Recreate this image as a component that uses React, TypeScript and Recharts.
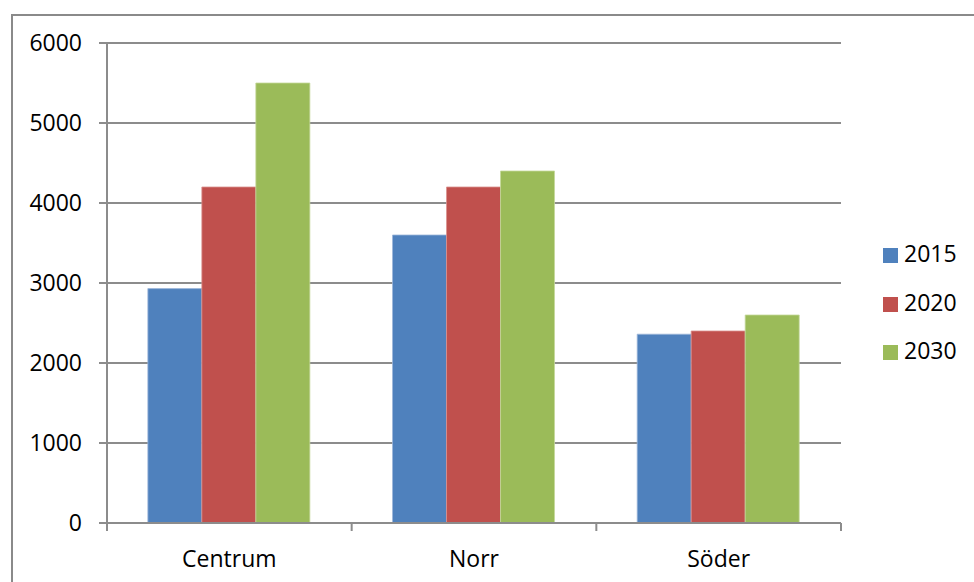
import { Bar, BarChart, CartesianGrid, Legend, XAxis, YAxis } from "recharts";

const regions = ["Centrum", "Norr", "Söder"];
const values2015 = [2930, 3600, 2360];
const values2020 = [4200, 4200, 2400];
const values2030 = [5500, 4400, 2600];
const yTicks = [0, 1000, 2000, 3000, 4000, 5000, 6000];

const data = regions.map((region, i) => ({
  region,
  "2015": values2015[i],
  "2020": values2020[i],
  "2030": values2030[i],
}));

const FONT = "'Open Sans', sans-serif";
const GRID = "#8c8c8c";
const PLOT_WIDTH = 841 - 107;
const BAND = PLOT_WIDTH / regions.length;

function CategoryTick(props: any) {
  const { x, y, payload, index } = props;
  const left = x - BAND / 2;
  return (
    <g>
      <line x1={left} y1={y - 8} x2={left} y2={y} stroke={GRID} strokeWidth={2} />
      {index === regions.length - 1 && (
        <line x1={left + BAND} y1={y - 8} x2={left + BAND} y2={y} stroke={GRID} strokeWidth={2} />
      )}
      <text x={x} y={y + 36} textAnchor="middle" fontFamily={FONT} fontSize={23} fill="#000">
        {payload.value}
      </text>
    </g>
  );
}

export default function App() {
  return (
    <div style={{ position: "absolute", left: 0, top: 0, width: 974, height: 582, overflow: "hidden", background: "#fff" }}>
      <div
        style={{
          position: "absolute",
          left: 11,
          top: 14,
          width: 1000,
          height: 600,
          border: "2px solid #8a8a8a",
          boxSizing: "border-box",
        }}
      />
      <div style={{ position: "absolute", left: 0, top: 0 }}>
        <BarChart
          width={974}
          height={582}
          data={data}
          margin={{ top: 43, right: 133, bottom: 0, left: 11 }}
          barCategoryGap="16.7%"
          barGap={0}
        >
          <CartesianGrid vertical={false} stroke={GRID} strokeWidth={2} />
          <XAxis
            dataKey="region"
            height={59}
            axisLine={{ stroke: GRID, strokeWidth: 2 }}
            tickLine={false}
            tick={<CategoryTick />}
            interval={0}
          />
          <YAxis
            width={96}
            domain={[0, 6000]}
            ticks={yTicks}
            axisLine={{ stroke: GRID, strokeWidth: 2 }}
            tickLine={{ stroke: GRID, strokeWidth: 2 }}
            tickSize={8}
            tickMargin={17}
            tick={{ fontFamily: FONT, fontSize: 23, fill: "#000" }}
          />
          <Legend
            layout="vertical"
            align="center"
            verticalAlign="middle"
            iconType="square"
            iconSize={15}
            wrapperStyle={{
              left: 883,
              top: 229,
              width: "auto",
              fontFamily: FONT,
              fontSize: 23,
              lineHeight: "48.5px",
              textAlign: "left",
            }}
            formatter={(v: string) => <span style={{ color: "#000", marginLeft: 2 }}>{v}</span>}
          />
          <Bar dataKey="2015" fill="#4F81BD" stroke="#9db6d9" strokeWidth={0.8} isAnimationActive={false} />
          <Bar dataKey="2020" fill="#C0504D" stroke="#d9908e" strokeWidth={0.8} isAnimationActive={false} />
          <Bar dataKey="2030" fill="#9BBB59" stroke="#c4d89b" strokeWidth={0.8} isAnimationActive={false} />
        </BarChart>
      </div>
    </div>
  );
}
